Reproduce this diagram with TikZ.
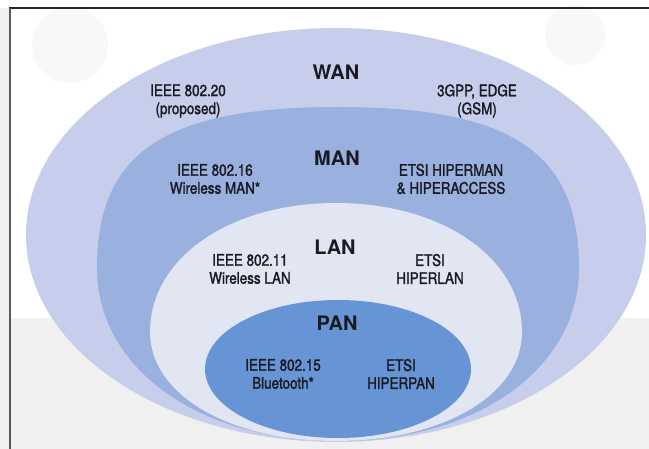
\documentclass[tikz,border=0pt]{standalone}
\usepackage{fontspec}
\setmainfont{TeX Gyre Heros}[FakeStretch=0.84, FakeBold=1.6]
\newfontfamily\labfont{TeX Gyre Heros}[FakeStretch=1.0]
\usetikzlibrary{shapes.geometric}
\definecolor{wancol}{HTML}{C6CEEB}
\definecolor{mancol}{HTML}{9AB0DE}
\definecolor{lancol}{HTML}{E2E6F3}
\definecolor{pancol}{HTML}{6694D4}
\definecolor{bgray}{HTML}{F0F0F0}
\definecolor{txt}{HTML}{1A1A22}
\tikzset{
  zone/.style={ellipse, inner sep=0pt, draw=none},
  std/.style={align=center, font=\fontsize{16}{18}\selectfont, text=txt, inner sep=0pt},
  lab/.style={font=\labfont\fontsize{20}{20}\selectfont\bfseries, text=txt, inner sep=0pt},
}
\begin{document}
\begin{tikzpicture}[x=1pt,y=-1pt]
\useasboundingbox (0,0) rectangle (649,449);
\fill[white] (0,0) rectangle (649,449);
% faint background (watermark)
\fill[bgray] (0,318) rectangle (649,449);
\fill[bgray] (0,8) rectangle (10,449);
\fill[bgray!45] (70,45) circle[radius=38pt];
\fill[bgray!45] (575,35) circle[radius=30pt];
% frame
\draw[line width=2.6pt, draw=black!85] (9,8) -- (649,8);
\draw[line width=1.8pt, draw=black!65] (10,8) -- (10,449);
% zones
\node[zone, fill=wancol, minimum width=620pt, minimum height=414pt] (wan) at (336,235) {};
\path[fill=mancol] (97,268) coordinate (ml)
  .. controls (97,152) and (165,107) .. (338,107) coordinate (mt)
  .. controls (511,107) and (579,152) .. (579,268) coordinate (mr)
  .. controls (579,368) and (478,441) .. (338,441) coordinate (mb)
  .. controls (198,441) and (97,368) .. (ml) -- cycle;
\path[fill=lancol] (150,332) coordinate (ll)
  .. controls (150,258) and (230,203) .. (336,203) coordinate (lt)
  .. controls (442,203) and (522,258) .. (522,332) coordinate (lr)
  .. controls (522,394) and (444,441) .. (336,441) coordinate (lb)
  .. controls (228,441) and (150,394) .. (ll) -- cycle;
\node[zone, fill=pancol, minimum width=266pt, minimum height=138pt] (pan) at (338,369) {};
% labels
\node[lab] (wanl) at (336,72) {WAN};
\node[std] (w1) at (188,101) {IEEE 802.20\\(proposed)};
\node[std] (w2) at (477,101) {3GPP, EDGE\\(GSM)};
\node[lab] (manl) at (337,158) {MAN};
\node[std] (m1) at (215,179) {IEEE 802.16\\Wireless MAN*};
\node[std] (m2) at (451,179) {ETSI HIPERMAN\\\& HIPERACCESS};
\node[lab] (lanl) at (335,247) {LAN};
\node[std] (l1) at (250,269) {IEEE 802.11\\Wireless LAN};
\node[std] (l2) at (430,269) {ETSI\\HIPERLAN};
\node[lab] (panl) at (337,323) {PAN};
\node[std] (p1) at (283,374) {IEEE 802.15\\Bluetooth*};
\node[std] (p2) at (401,374) {ETSI\\HIPERPAN};
\end{tikzpicture}
\end{document}
